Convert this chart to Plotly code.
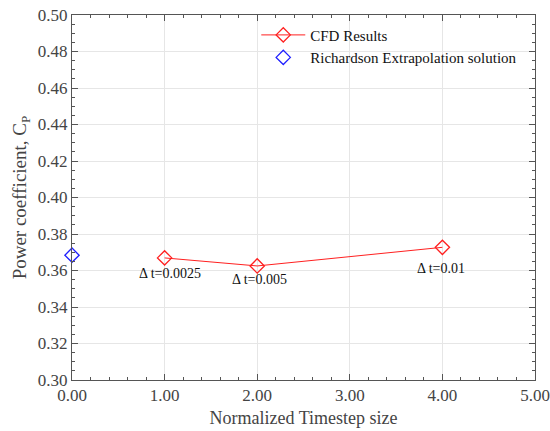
import plotly.graph_objects as go

cfd_x = [1.0, 2.0, 4.0]
cfd_y = [0.3669, 0.3625, 0.3727]
rich_x = [0.0]
rich_y = [0.3684]
labels = ["Δ t=0.0025", "Δ t=0.005", "Δ t=0.01"]
label_x = [1.06, 2.03, 3.98]
label_y = [0.3586, 0.3548, 0.3612]
x_ticks = [0, 1, 2, 3, 4, 5]
x_tick_text = ["0.00", "1.00", "2.00", "3.00", "4.00", "5.00"]

FONT = "Liberation Serif"

fig = go.Figure()
fig.add_trace(go.Scatter(
    x=cfd_x, y=cfd_y, mode="lines+markers", name="CFD Results",
    line=dict(color="#ff2020", width=1),
    marker=dict(symbol="diamond-open", size=11, color="#ff2020", line=dict(width=1.3)),
))
fig.add_trace(go.Scatter(
    x=rich_x, y=rich_y, mode="markers", name="Richardson Extrapolation solution",
    marker=dict(symbol="diamond-open", size=11, color="#2020ff", line=dict(width=1.3)),
    cliponaxis=False,
))
for t, lx, ly in zip(labels, label_x, label_y):
    fig.add_annotation(x=lx, y=ly, text=t, showarrow=False,
                       font=dict(family=FONT, size=14, color="#111"))

axis_common = dict(
    showline=True, linecolor="#555", linewidth=1, mirror="ticks",
    ticks="inside", ticklen=6, tickcolor="#555",
    showgrid=True, gridcolor="#e6e6e6", gridwidth=1, zeroline=False,
    tickfont=dict(family=FONT, size=17, color="#444"),
    automargin=False,
)
fig.update_xaxes(
    range=[0, 5], tickvals=x_ticks, ticktext=x_tick_text,
    minor=dict(ticks="inside", ticklen=3, dtick=0.2, tickcolor="#555", showgrid=False),
    title=dict(text="Normalized Timestep size", font=dict(family=FONT, size=18, color="#444"), standoff=6),
    **axis_common,
)
fig.update_yaxes(
    range=[0.30, 0.50], dtick=0.02, tickformat=".2f",
    minor=dict(ticks="inside", ticklen=3, dtick=0.005, tickcolor="#555", showgrid=False),
    title=dict(text="Power coefficient, C<sub>P</sub>", font=dict(family=FONT, size=19, color="#444"), standoff=6),
    **axis_common,
)
fig.update_layout(
    width=550, height=431,
    margin=dict(l=72, r=15, t=15, b=51),
    plot_bgcolor="white", paper_bgcolor="white",
    showlegend=True,
    legend=dict(x=0.398, y=0.99, xanchor="left", yanchor="top",
                bgcolor="rgba(255,255,255,0)", font=dict(family=FONT, size=15, color="#111"),
                tracegroupgap=0, itemwidth=44),
)
fig.write_html("out.html", config={"displayModeBar": False},
               post_script="document.body.style.margin='0px';document.body.style.overflow='hidden';")
